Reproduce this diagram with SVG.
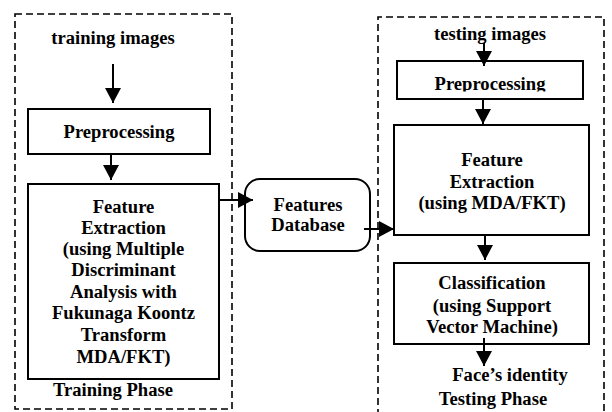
<svg xmlns="http://www.w3.org/2000/svg" width="612" height="412" viewBox="0 0 612 412">
<style>
text{font-family:"Liberation Serif","Times New Roman",serif;font-weight:bold;font-size:18.6px;fill:#000;text-anchor:middle}
.box{fill:#fff;stroke:#000;stroke-width:2}
.phase{fill:none;stroke:#000;stroke-width:1.6;stroke-dasharray:7 4}
.arr{stroke:#000;stroke-width:2;fill:none;marker-end:url(#ah)}
</style>
<defs>
<marker id="ah" markerUnits="userSpaceOnUse" markerWidth="16" markerHeight="16" refX="15" refY="8" orient="auto">
<path d="M0,0 L15,8 L0,16 z" fill="#000"/>
</marker>
<clipPath id="clipPre"><rect x="397" y="61" width="186" height="30.5"/></clipPath>
</defs>
<rect width="612" height="412" fill="#fff"/>
<g id="training-phase">
<rect class="phase" x="15" y="14" width="217" height="395"/>
<text x="113" y="396">Training Phase</text>
</g>
<g id="testing-phase">
<path class="phase" d="M378,416 V17 H604 V416"/>
<text x="493" y="405">Testing Phase</text>
</g>
<g id="training-images"><text x="113" y="44">training images</text></g>
<g id="preprocessing-train">
<rect class="box" x="28" y="109" width="182" height="45"/>
<text x="119" y="138">Preprocessing</text>
</g>
<g id="feature-extraction-train">
<rect class="box" x="28" y="184" width="191" height="195"/>
<text x="123.5" y="213">Feature</text>
<text x="123.5" y="234">Extraction</text>
<text x="123.5" y="255">(using Multiple</text>
<text x="123.5" y="276">Discriminant</text>
<text x="123.5" y="298">Analysis with</text>
<text x="123.5" y="319">Fukunaga Koontz</text>
<text x="123.5" y="341">Transform</text>
<text x="123.5" y="363">MDA/FKT)</text>
</g>
<g id="features-database">
<rect class="box" x="245" y="179" width="125" height="72" rx="15" ry="15"/>
<text x="308" y="211">Features</text>
<text x="308" y="231">Database</text>
</g>
<g id="testing-images"><text x="490" y="40">testing images</text></g>
<g id="preprocessing-test">
<rect class="box" x="397" y="61" width="186" height="38"/>
<text x="490" y="90" clip-path="url(#clipPre)">Preprocessing</text>
</g>
<g id="feature-extraction-test">
<rect class="box" x="394" y="125" width="195" height="110"/>
<text x="492" y="166">Feature</text>
<text x="492" y="188">Extraction</text>
<text x="492" y="209">(using MDA/FKT)</text>
</g>
<g id="classification">
<rect class="box" x="394" y="263" width="195" height="81"/>
<text x="492" y="289">Classification</text>
<text x="492" y="312">(using Support</text>
<text x="492" y="333">Vector Machine)</text>
</g>
<g id="face-identity"><text x="510" y="381">Face’s identity</text></g>
<g id="connectors">
<line class="arr" x1="113" y1="64" x2="113" y2="103"/>
<line class="arr" x1="111" y1="154" x2="111" y2="180"/>
<line class="arr" x1="220" y1="200" x2="253" y2="200"/>
<line class="arr" x1="364" y1="229" x2="394" y2="229"/>
<line class="arr" x1="484" y1="43" x2="484" y2="66"/>
<line class="arr" x1="483" y1="99" x2="483" y2="124"/>
<line class="arr" x1="485" y1="235" x2="485" y2="260"/>
<line class="arr" x1="484" y1="338" x2="484" y2="366"/>
</g>
</svg>
